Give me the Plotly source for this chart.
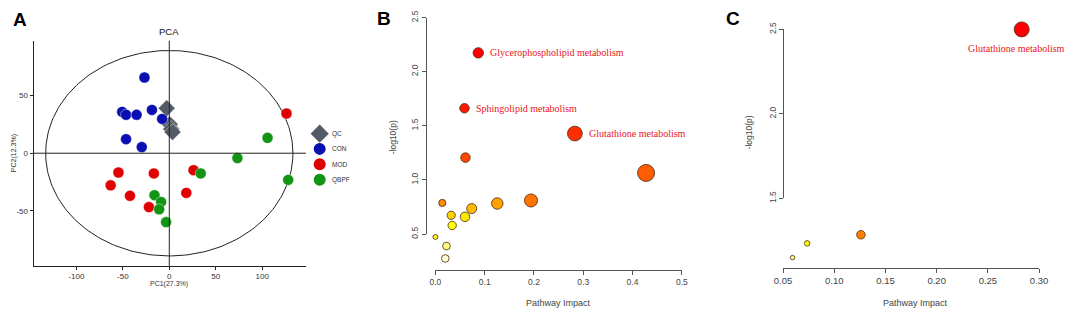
import colorsys
import numpy as np
import plotly.graph_objects as go

W, H = 1072, 315

# ---------------- Panel A: PCA scores ----------------
pc1_qc = [-2.8, 0.5, 2.0, 3.5]
pc2_qc = [38.9, 25.0, 21.0, 18.3]
pc1_con = [-26.7, -50.7, -46.5, -35.2, -18.7, -7.7, -46.5, -29.6]
pc2_con = [65.6, 35.8, 33.3, 33.3, 37.5, 29.7, 12.2, 5.3]
pc1_mod = [126.1, -54.7, -16.6, 26.1, -63.1, -42.3, 18.3, -21.9]
pc2_mod = [34.4, -16.7, -17.5, -14.7, -27.8, -36.9, -34.4, -46.7]
pc1_qbpf = [105.7, 73.3, 33.8, 127.9, -15.9, -8.8, -10.9, -3.5]
pc2_qbpf = [13.3, -4.2, -17.5, -23.1, -36.4, -42.2, -48.6, -59.7]
group_names = ["QC", "CON", "MOD", "QBPF"]
ellipse_radii = (133.0, 89.0)
pca_xticks = [-100, -50, 0, 50, 100]
pca_yticks = [-50, 0, 50]

# ---------------- Panel B: pathway analysis ----------------
impact_b = [0.087, 0.059, 0.283, 0.061, 0.4275, 0.014, 0.1255, 0.194,
            0.0737, 0.032, 0.060, 0.034, 0.0, 0.0225, 0.020]
logp_b = [2.174, 1.662, 1.428, 1.206, 1.064, 0.787, 0.782, 0.810,
          0.735, 0.673, 0.659, 0.579, 0.473, 0.389, 0.274]
labels_b = ["Glycerophospholipid metabolism", "Sphingolipid metabolism",
            "Glutathione metabolism"]

# ---------------- Panel C: pathway analysis ----------------
impact_c = [0.283, 0.126, 0.0735, 0.0593]
logp_c = [2.5, 1.285, 1.234, 1.15]
labels_c = ["Glutathione metabolism"]

SANS = "Liberation Sans, Arial, sans-serif"
SERIF = "Liberation Serif, Times New Roman, serif"


def px_x(p):
    return p / W


def px_y(p):
    return 1 - p / H


def lin(v0, p0, v1, p1, q):
    return v0 + (q - p0) * (v1 - v0) / (p1 - p0)


def heat_colors(n):
    """R's heat.colors(n)"""
    j = n // 4
    i = n - j
    cols = []
    for k in range(i):
        h = (1 / 6) * k / (i - 1) if i > 1 else 0
        cols.append(colorsys.hsv_to_rgb(h, 1, 1))
    if j > 0:
        for s in np.linspace(1 - 1 / (2 * j), 1 / (2 * j), j):
            cols.append(colorsys.hsv_to_rgb(1 / 6, s, 1))
    return ["rgb(%d,%d,%d)" % (round(r * 255), round(g * 255), round(b * 255)) for r, g, b in cols]


def rank_colors(vals):
    pal = heat_colors(len(vals))
    order = np.argsort(-np.asarray(vals), kind="stable")
    out = [None] * len(vals)
    for r, idx in enumerate(order):
        out[idx] = pal[r]
    return out


def size_scale(imp, smin, smax):
    s = np.sqrt(np.asarray(imp, dtype=float))
    return list(smin + (smax - smin) * (s - s.min()) / (s.max() - s.min()))


fig = go.Figure()

# ---- Panel A traces ----
theta = np.linspace(0, 2 * np.pi, 240)
fig.add_trace(go.Scatter(x=ellipse_radii[0] * np.cos(theta), y=ellipse_radii[1] * np.sin(theta),
                         mode="lines", line=dict(color="#222", width=1), xaxis="x", yaxis="y",
                         hoverinfo="skip", showlegend=False))
groups = [
    (pc1_qc, pc2_qc, "#555b66", "diamond", 13),
    (pc1_con, pc2_con, "#0a0fb0", "circle", 11),
    (pc1_mod, pc2_mod, "#e00000", "circle", 11),
    (pc1_qbpf, pc2_qbpf, "#149414", "circle", 11),
]
for (gx, gy, col, sym, sz), name in zip(groups, group_names):
    fig.add_trace(go.Scatter(x=gx, y=gy, mode="markers", name=name, xaxis="x", yaxis="y",
                             marker=dict(color=col, symbol=sym, size=sz, opacity=1,
                                         line=dict(width=0.6, color="rgba(255,255,255,0.7)")),
                             showlegend=False))

# manual legend (overlay axis in pixel coordinates)
leg_y = [131.7, 147.5, 163.5, 179.5]
for (gx, gy, col, sym, sz), name, ly in zip(groups, group_names, leg_y):
    fig.add_trace(go.Scatter(x=[316], y=[ly], mode="markers", xaxis="x4", yaxis="y4",
                             marker=dict(color=col, symbol=sym, size=sz + 1, line=dict(width=0)),
                             showlegend=False, hoverinfo="skip"))
    fig.add_annotation(x=px_x(326), y=px_y(ly), xref="paper", yref="paper", text=name,
                       showarrow=False, xanchor="left", yanchor="middle",
                       font=dict(family=SANS, size=6.5, color="#333"))

# ---- Panel B (data on hidden, extended axes x5/y5; R-style axes on x2/y2) ----
col_b = rank_colors(logp_b)
size_b = size_scale(impact_b, 5, 17)
fig.add_trace(go.Scatter(x=impact_b, y=logp_b, mode="markers", xaxis="x5", yaxis="y5",
                         marker=dict(color=col_b, size=size_b, opacity=1,
                                     line=dict(width=0.8, color="#4a2a10")),
                         cliponaxis=False, showlegend=False))
for k, lab in enumerate(labels_b):
    fig.add_annotation(x=impact_b[k], y=logp_b[k], xref="x5", yref="y5", text=lab,
                       showarrow=False, xanchor="left", yanchor="middle",
                       xshift=size_b[k] / 2 + 5, yshift=0,
                       font=dict(family=SERIF, size=10, color="#e8141c"))
fig.add_trace(go.Scatter(x=[None], y=[None], xaxis="x2", yaxis="y2", showlegend=False,
                         hoverinfo="skip"))

# ---- Panel C ----
col_c = rank_colors(logp_c)
size_c = size_scale(impact_c, 4.5, 15)
fig.add_trace(go.Scatter(x=impact_c, y=logp_c, mode="markers", xaxis="x6", yaxis="y6",
                         marker=dict(color=col_c, size=size_c, opacity=1,
                                     line=dict(width=0.8, color="#4a2a10")),
                         cliponaxis=False, showlegend=False))
for k, lab in enumerate(labels_c):
    fig.add_annotation(x=impact_c[k], y=logp_c[k], xref="x6", yref="y6", text=lab,
                       showarrow=False, xanchor="center", yanchor="middle",
                       xshift=-5, yshift=-19,
                       font=dict(family=SERIF, size=10, color="#e8141c"))
fig.add_trace(go.Scatter(x=[None], y=[None], xaxis="x3", yaxis="y3", showlegend=False,
                         hoverinfo="skip"))

# ---- reference lines in A ----
fig.add_shape(type="line", xref="x", yref="y domain", x0=0, x1=0, y0=0, y1=1,
              line=dict(color="#222", width=1))
fig.add_shape(type="line", xref="x domain", yref="y", x0=0, x1=1, y0=0, y1=0,
              line=dict(color="#222", width=1))

axis_common = dict(showgrid=False, zeroline=False, showline=True, ticks="outside")
hidden = dict(visible=False, showgrid=False, zeroline=False, fixedrange=True)

# pixel calibration of the R-style axes
bx = (0.0, 433.7, 0.5, 684.3)
by = (0.5, 236.0, 2.5, 11.0)
cx = (0.05, 787.3, 0.30, 1047.7)
cy = (1.5, 199.0, 2.5, 23.3)
ext_x_b = (380.0, 712.0)
ext_x_c = (740.0, 1072.0)
ext_y = (2.0, 300.0)

fig.update_layout(
    width=W, height=H, margin=dict(l=0, r=0, t=0, b=0),
    paper_bgcolor="white", plot_bgcolor="rgba(0,0,0,0)",
    font=dict(family=SANS),
    xaxis=dict(**axis_common, domain=[px_x(25), px_x(302)], range=[-146, 147], anchor="y",
               linecolor="#222", tickcolor="#222", ticklen=3,
               tickvals=pca_xticks, ticktext=[str(v) for v in pca_xticks],
               tickfont=dict(size=8, color="#333")),
    yaxis=dict(**axis_common, domain=[px_y(269), px_y(35)], range=[-97.5, 97.5], anchor="x",
               linecolor="#222", tickcolor="#222", ticklen=3,
               tickvals=pca_yticks, ticktext=[str(v) for v in pca_yticks],
               tickfont=dict(size=8, color="#333")),
    xaxis2=dict(**axis_common, domain=[px_x(bx[1]), px_x(bx[3])], range=[bx[0], bx[2]], anchor="free",
                position=px_y(273), dtick=0.1, tick0=0, tickformat=".1f",
                linecolor="#555", tickcolor="#555", ticklen=4,
                tickfont=dict(size=8.5, color="#444")),
    yaxis2=dict(**axis_common, domain=[px_y(by[1]), px_y(by[3])], range=[by[0], by[2]], anchor="free",
                position=px_x(424), dtick=0.5, tick0=0.5, tickformat=".1f", tickangle=-90,
                linecolor="#555", tickcolor="#555", ticklen=4,
                tickfont=dict(size=8.5, color="#444")),
    xaxis3=dict(**axis_common, domain=[px_x(cx[1]), px_x(cx[3])], range=[cx[0], cx[2]], anchor="free",
                position=px_y(271), dtick=0.05, tick0=0.05, tickformat=".2f",
                linecolor="#555", tickcolor="#555", ticklen=4,
                tickfont=dict(size=9.5, color="#444")),
    yaxis3=dict(**axis_common, domain=[px_y(cy[1]), px_y(cy[3])], range=[cy[0], cy[2]], anchor="free",
                position=px_x(cx[1]), dtick=0.5, tick0=1.5, tickformat=".1f", tickangle=-90,
                linecolor="#555", tickcolor="#555", ticklen=4,
                tickfont=dict(size=8.5, color="#444")),
    xaxis4=dict(domain=[0, 1], range=[0, W], anchor="y4", **hidden),
    yaxis4=dict(domain=[0, 1], range=[H, 0], anchor="x4", **hidden),
    xaxis5=dict(domain=[px_x(ext_x_b[0]), px_x(ext_x_b[1])],
                range=[lin(*bx, ext_x_b[0]), lin(*bx, ext_x_b[1])], anchor="y5", **hidden),
    yaxis5=dict(domain=[px_y(ext_y[1]), px_y(ext_y[0])],
                range=[lin(*by, ext_y[1]), lin(*by, ext_y[0])], anchor="x5", **hidden),
    xaxis6=dict(domain=[px_x(ext_x_c[0]), px_x(ext_x_c[1])],
                range=[lin(*cx, ext_x_c[0]), lin(*cx, ext_x_c[1])], anchor="y6", **hidden),
    yaxis6=dict(domain=[px_y(ext_y[1]), px_y(ext_y[0])],
                range=[lin(*cy, ext_y[1]), lin(*cy, ext_y[0])], anchor="x6", **hidden),
)

# text annotations: titles, axis titles, panel letters
texts = [
    ("PCA", 163, 25, 0, 9.5, "#111"),
    ("PC1(27.3%)", 163, 287.5, 0, 7, "#333"),
    ("PC2(12.3%)", 5, 152, -90, 7, "#333"),
    ("Pathway Impact", 559, 307.5, 0, 9, "#444"),
    ("-log10(p)", 390, 135, -90, 8.5, "#444"),
    ("Pathway Impact", 921.7, 307.5, 0, 9, "#444"),
    ("-log10(p)", 753, 130, -90, 8.5, "#444"),
]
for t, x, y, ang, sz, col in texts:
    fig.add_annotation(x=px_x(x), y=px_y(y), xref="paper", yref="paper", text=t, textangle=ang,
                       showarrow=False, xanchor="center", yanchor="middle",
                       font=dict(family=SANS, size=sz, color=col))
for t, x, y in [("A", 11, 13), ("B", 381, 12), ("C", 736, 12)]:
    fig.add_annotation(x=px_x(x), y=px_y(y), xref="paper", yref="paper", text="<b>%s</b>" % t,
                       showarrow=False, xanchor="center", yanchor="middle",
                       font=dict(family=SANS, size=19, color="#000"))

fig.write_html("out.html", config={"displayModeBar": False},
               post_script="document.body.style.margin='0';")
